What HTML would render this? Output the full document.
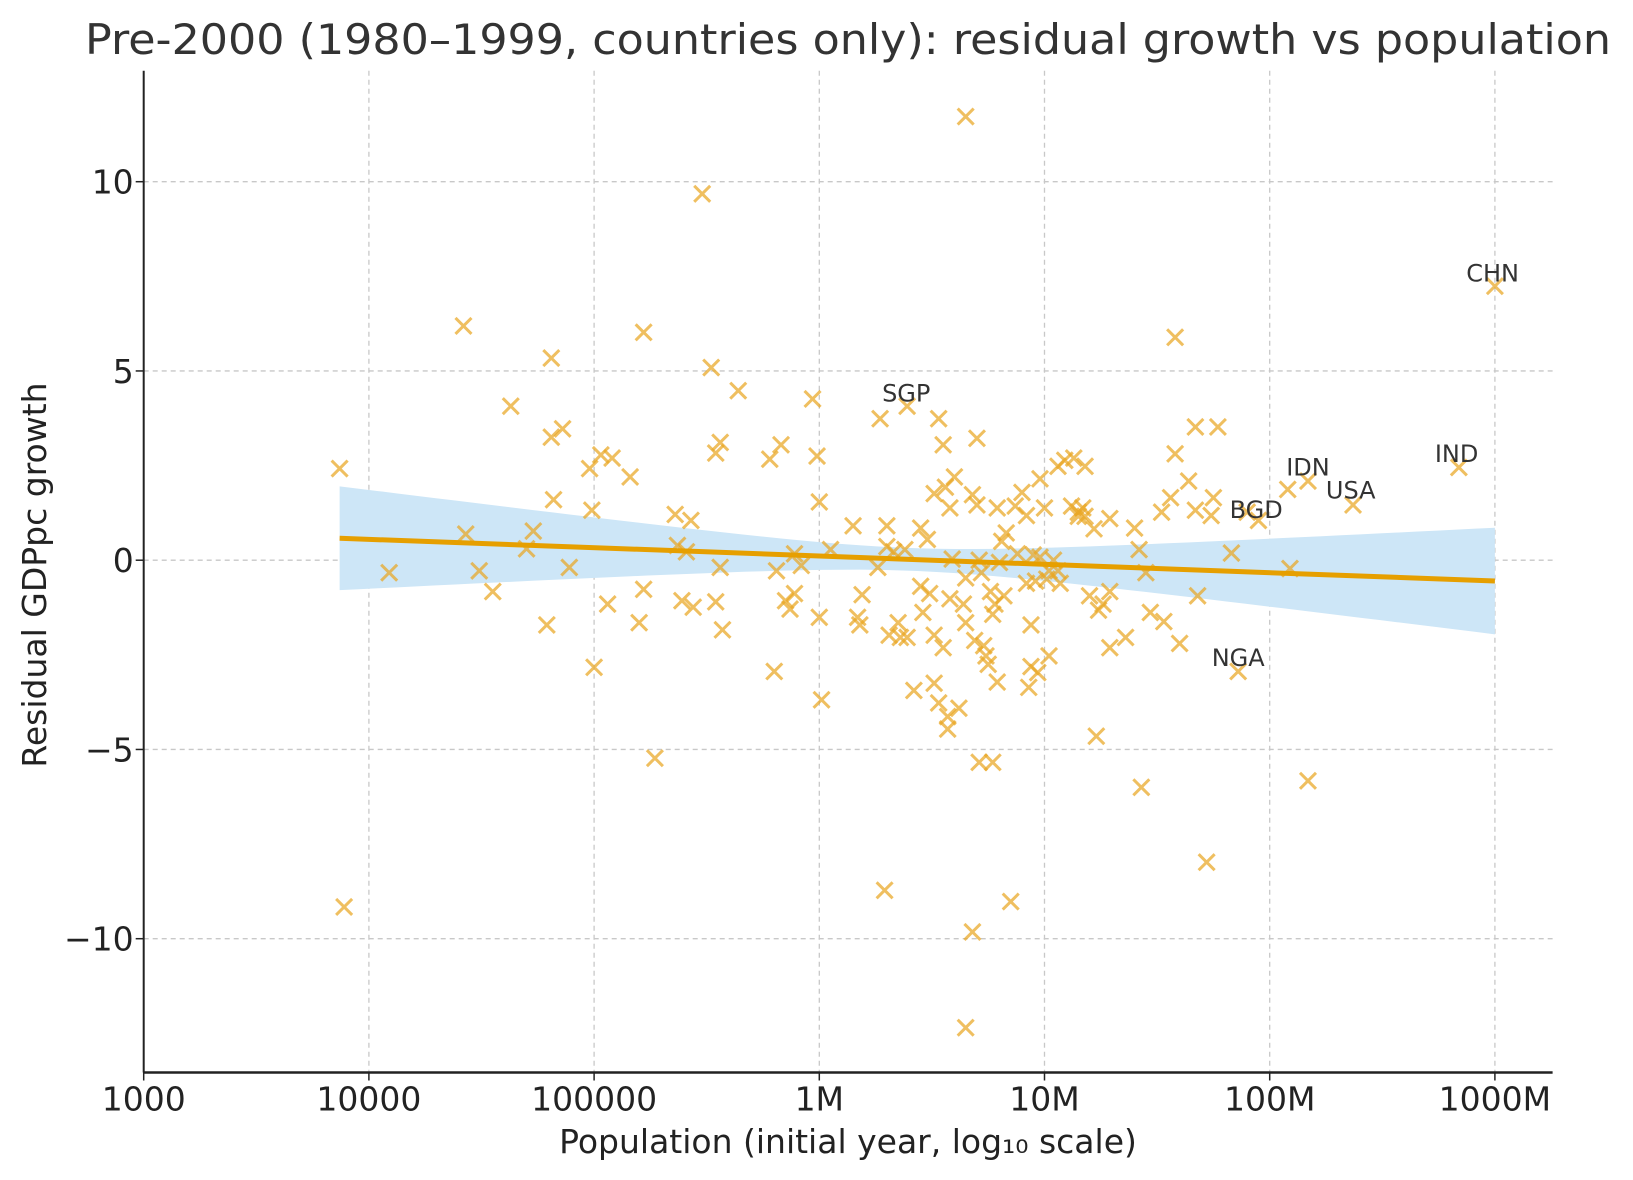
<!DOCTYPE html>
<html><head><meta charset="utf-8">
<style>
html,body{margin:0;padding:0;background:#fff;}
svg{display:block;font-family:"DejaVu Sans","Liberation Sans",sans-serif;}
</style></head>
<body>
<svg id="chart" width="1633" height="1180" viewBox="0 0 1633 1180" xmlns="http://www.w3.org/2000/svg">
<text x="848" y="54" text-anchor="middle" font-size="42" fill="#333" textLength="1526" lengthAdjust="spacingAndGlyphs">Pre-2000 (1980–1999, countries only): residual growth vs population</text>
<text x="848" y="1153" text-anchor="middle" font-size="33" fill="#222">Population (initial year, log₁₀ scale)</text>
<text transform="translate(46,575) rotate(-90)" text-anchor="middle" font-size="33" fill="#222">Residual GDPpc growth</text>
<g id="grid"></g><g id="band"></g><g id="pts"></g><g id="fit"></g><g id="labels"></g><g id="axes"></g>
</svg>
<script>
const xTickVals=[3,4,5,6,7,8,9];
const xTickLabels=["1000","10000","100000","1M","10M","100M","1000M"];
const yTickVals=[-10,-5,0,5,10];
const yTickLabels=["−10","−5","0","5","10"];
const logPop=[3.87,3.89,4.09,4.42,4.43,4.49,4.55,4.63,4.70,4.73,4.79,4.81,4.81,4.82,4.86,4.89,4.98,4.99,5.00,5.03,5.06,5.08,5.16,5.20,5.22,5.22,5.27,5.36,5.37,5.39,5.41,5.43,5.44,5.48,5.52,5.54,5.54,5.56,5.56,5.57,5.64,5.78,5.80,5.81,5.83,5.85,5.87,5.89,5.89,5.92,5.97,5.99,6.00,6.00,6.01,6.05,6.15,6.17,6.18,6.19,6.26,6.27,6.29,6.30,6.30,6.31,6.33,6.35,6.36,6.38,6.39,6.39,6.42,6.45,6.45,6.46,6.48,6.49,6.51,6.51,6.51,6.53,6.53,6.55,6.55,6.56,6.57,6.57,6.58,6.58,6.60,6.59,6.62,6.64,6.65,6.65,6.65,6.65,6.68,6.68,6.69,6.70,6.70,6.71,6.71,6.72,6.73,6.74,6.75,6.76,6.77,6.77,6.78,6.79,6.79,6.80,6.81,6.82,6.83,6.85,6.87,6.88,6.90,6.92,6.92,6.93,6.94,6.94,6.95,6.96,6.97,6.98,6.98,7.00,7.01,7.02,7.02,7.04,7.06,7.06,7.07,7.09,7.12,7.13,7.15,7.15,7.17,7.18,7.18,7.20,7.22,7.23,7.24,7.26,7.29,7.29,7.29,7.36,7.40,7.42,7.43,7.45,7.47,7.52,7.53,7.56,7.58,7.58,7.60,7.64,7.67,7.67,7.68,7.72,7.74,7.75,7.77,7.83,7.86,7.90,7.95,8.08,8.09,8.17,8.17,8.37,8.84,9.00];
const residual=[2.42,-9.16,-0.33,6.19,0.69,-0.28,-0.83,4.07,0.30,0.77,-1.71,5.34,3.25,1.60,3.47,-0.19,2.42,1.32,-2.83,2.78,-1.16,2.70,2.20,-1.65,6.02,-0.77,-5.23,1.21,0.39,-1.07,0.22,1.05,-1.24,9.68,5.09,-1.10,2.83,3.11,-0.19,-1.84,4.48,2.67,-2.94,-0.28,3.05,-1.07,-1.29,-0.88,0.17,-0.14,4.26,2.75,1.54,-1.51,-3.69,0.28,0.91,-1.51,-1.71,-0.91,-0.19,3.74,-8.72,0.91,0.36,-1.98,0.22,-1.65,-2.04,0.28,4.07,-2.04,-3.44,-0.69,0.85,-1.38,0.55,-0.88,1.76,-1.98,-3.25,3.74,-3.77,3.05,-2.31,1.93,-4.46,-4.13,1.38,-1.02,2.20,0.03,-3.91,-1.16,-0.47,11.72,-12.35,-1.65,-9.82,1.73,-2.12,3.22,1.46,0,-5.34,-0.33,-2.26,-2.53,-2.75,-0.83,-1.43,-5.34,-1.16,1.38,-3.22,-0.06,0.50,-0.94,0.72,-9.02,1.43,0.17,1.79,1.18,-0.61,-3.36,-1.71,-2.81,0.14,-0.55,-2.97,2.15,0.08,1.38,-0.50,-0.28,-2.53,0,2.48,-0.28,-0.61,2.64,1.43,2.70,1.27,1.16,1.38,2.48,1.16,-0.94,0.83,-4.65,-1.32,-1.16,1.10,-2.31,-0.83,-2.04,0.85,0.28,-6.00,-0.33,-1.38,1.27,-1.62,1.65,2.81,5.89,-2.20,2.09,3.52,1.32,-0.94,-7.98,1.18,1.65,3.52,0.19,-2.94,1.27,1.05,1.87,-0.22,-5.83,2.09,1.46,2.45,7.24];
const labelText=["SGP","CHN","IND","IDN","USA","BGD","NGA"];
const labelLog=[6.386,8.99,8.83,8.17,8.36,7.94,7.86];
const labelVal=[4.40,7.57,2.81,2.45,1.84,1.32,-2.59];
const fitX=[3.87,9.0];
const fitY=[0.58,-0.55];
const ciCenter=6.4, ciBase=0.3, ciSlope=0.28;

const L=143.7,R=1552.6,T=70.8,B=1072.5;
const xs=v=>143.7+(v-3)*225.2;
const ys=v=>560.2-v*37.85;
const NS="http://www.w3.org/2000/svg";
function mk(tag,attrs,parent){const e=document.createElementNS(NS,tag);for(const k in attrs)e.setAttribute(k,attrs[k]);parent.appendChild(e);return e;}
const grid=document.getElementById('grid'),axes=document.getElementById('axes');
xTickVals.forEach((v,i)=>{
  const x=xs(v);
  if(v>3){const g=mk('line',{x1:x,x2:x,y1:T,y2:B,stroke:'#c8c8c8','stroke-width':1.3,'stroke-dasharray':'5,4'},grid);
  }
  const t=mk('line',{x1:x,x2:x,y1:B,y2:B+8,stroke:'#222','stroke-width':1.5},axes);
  
  const tx=mk('text',{x:x,y:B+38,'text-anchor':'middle','font-size':33,fill:'#222'},axes);tx.textContent=xTickLabels[i];
  
});
yTickVals.forEach((v,i)=>{
  const y=ys(v);
  const g=mk('line',{x1:L,x2:R,y1:y,y2:y,stroke:'#c8c8c8','stroke-width':1.3,'stroke-dasharray':'5,4'},grid);
  
  const t=mk('line',{x1:L-8,x2:L,y1:y,y2:y,stroke:'#222','stroke-width':1.5},axes);
  
  const tx=mk('text',{x:L-10,y:y+12,'text-anchor':'end','font-size':33,fill:'#222'},axes);tx.textContent=yTickLabels[i];
  
});
const ax1=mk('line',{x1:L,x2:L,y1:T,y2:B,stroke:'#222','stroke-width':2},axes);

const ax2=mk('line',{x1:L,x2:R,y1:B,y2:B,stroke:'#222','stroke-width':2.5},axes);


const slope=(fitY[1]-fitY[0])/(fitX[1]-fitX[0]);
const fy=x=>fitY[0]+slope*(x-fitX[0]);
const hw=x=>Math.sqrt(ciBase*ciBase+ciSlope*(x-ciCenter)*(x-ciCenter));
let up=[],lo=[];
for(let k=0;k<=60;k++){const x=fitX[0]+(fitX[1]-fitX[0])*k/60;up.push(xs(x)+','+ys(fy(x)+hw(x)));lo.unshift(xs(x)+','+ys(fy(x)-hw(x)));}
const band=mk('polygon',{points:up.concat(lo).join(' '),fill:'#cde6f7'},document.getElementById('band'));


const pts=document.getElementById('pts');
logPop.forEach((lx,i)=>{
  const cx=xs(lx),cy=ys(residual[i]),s=8;
  const p=mk('path',{d:`M${cx-s},${cy-s}L${cx+s},${cy+s}M${cx-s},${cy+s}L${cx+s},${cy-s}`,stroke:'#e9a623','stroke-width':3,'stroke-opacity':0.72,fill:'none'},pts);
  
});
const fl=mk('line',{x1:xs(fitX[0]),y1:ys(fitY[0]),x2:xs(fitX[1]),y2:ys(fitY[1]),stroke:'#e69f00','stroke-width':5},document.getElementById('fit'));

const lg=document.getElementById('labels');
labelText.forEach((t,i)=>{
  const tx=mk('text',{x:xs(labelLog[i]),y:ys(labelVal[i])+8,'text-anchor':'middle','font-size':24,fill:'#333'},lg);
  tx.textContent=t;
  
});
</script>
</body></html>
